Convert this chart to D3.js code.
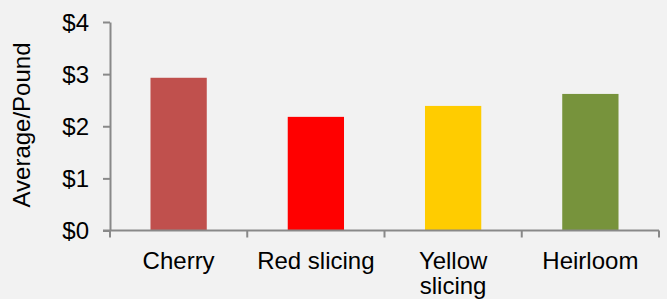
<!DOCTYPE html>
<meta charset="utf-8">
<title>Average price per pound</title>
<style>
body { margin: 0; background: #f2f2f2; }
svg { display: block; font-family: "Liberation Sans", Arial, sans-serif; }
.axis path, .axis line { stroke: #898989; stroke-width: 2px; }
.axis text { fill: #000; font-size: 24px; }
</style>
<body>
<script src="https://cdn.jsdelivr.net/npm/d3@7"></script>
<script>
const categories = ["Cherry", "Red slicing", "Yellow slicing", "Heirloom"];
const prices = [2.93, 2.18, 2.39, 2.62];
const barColors = ["#c0504d", "#ff0000", "#ffcc00", "#77933c"];
const yTicks = [0, 1, 2, 3, 4];

const width = 667, height = 299;
const margin = {top: 22, right: 8, bottom: 68, left: 110};

const svg = d3.select("body").append("svg")
    .attr("width", width)
    .attr("height", height);

const x = d3.scaleBand()
    .domain(categories)
    .range([margin.left, width - margin.right])
    .paddingInner(0.59)
    .paddingOuter(0.295);

const y = d3.scaleLinear()
    .domain([0, 4])
    .range([height - margin.bottom - 0.5, margin.top]);

// bars
svg.selectAll("rect.bar")
    .data(categories)
  .enter().append("rect")
    .attr("class", "bar")
    .attr("x", d => x(d))
    .attr("width", x.bandwidth())
    .attr("y", (d, i) => y(prices[i]))
    .attr("height", (d, i) => y(0) - y(prices[i]))
    .attr("fill", (d, i) => barColors[i]);

// y axis
const yAxis = svg.append("g")
    .attr("class", "axis")
    .attr("transform", `translate(${margin.left},0)`)
    .call(d3.axisLeft(y).tickValues(yTicks).tickFormat(d => "$" + d).tickSize(7).tickSizeOuter(0).tickPadding(14));
yAxis.selectAll("text").attr("dy", "0.35em");

// x axis with ticks at band boundaries
const step = x.step();
const bounds = d3.range(categories.length + 1).map(i => margin.left + i * (width - margin.right - margin.left) / categories.length);
const xAxis = svg.append("g")
    .attr("class", "axis")
    .attr("transform", `translate(0,${y(0)})`);
xAxis.append("line")
    .attr("x1", margin.left - 7).attr("x2", width - margin.right)
    .attr("y1", 0).attr("y2", 0);
xAxis.selectAll("line.tick")
    .data(bounds)
  .enter().append("line")
    .attr("class", "tick")
    .attr("x1", d => d).attr("x2", d => d)
    .attr("y1", 0).attr("y2", 7);

const labels = xAxis.selectAll("text")
    .data(categories)
  .enter().append("text")
    .attr("text-anchor", "middle")
    .attr("x", d => x(d) + x.bandwidth() / 2)
    .attr("y", 38);
labels.each(function(d) {
  const t = d3.select(this);
  const parts = d === "Yellow slicing" ? ["Yellow", "slicing"] : [d];
  parts.forEach((p, i) => {
    t.append("tspan")
      .attr("x", x(d) + x.bandwidth() / 2)
      .attr("dy", i === 0 ? 0 : 25)
      .text(p);
  });
});

// y axis title
svg.append("text")
    .attr("transform", `translate(30,125) rotate(-90)`)
    .attr("text-anchor", "middle")
    .style("font-size", "24px")
    .text("Average/Pound");
</script>
</body>
